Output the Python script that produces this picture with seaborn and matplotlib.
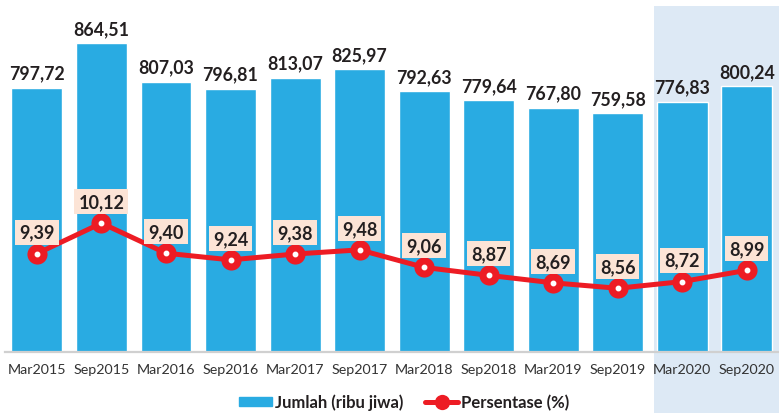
import matplotlib
matplotlib.use("Agg")
import matplotlib.pyplot as plt
from matplotlib.patches import Rectangle, Patch
from matplotlib.lines import Line2D
import pandas as pd
import seaborn as sns

periods = ["Mar2015", "Sep2015", "Mar2016", "Sep2016", "Mar2017", "Sep2017",
           "Mar2018", "Sep2018", "Mar2019", "Sep2019", "Mar2020", "Sep2020"]
jumlah = [797.72, 864.51, 807.03, 796.81, 813.07, 825.97,
          792.63, 779.64, 767.80, 759.58, 776.83, 800.24]
persentase = [9.39, 10.12, 9.40, 9.24, 9.38, 9.48,
              9.06, 8.87, 8.69, 8.56, 8.72, 8.99]

BLUE = "#29abe2"
RED = "#ed1c24"
TXT = "#231f20"

sns.set_style("white")
plt.rcParams["font.family"] = ["Lato", "DejaVu Sans"]

df = pd.DataFrame({"periode": periods, "jumlah": jumlah, "persen": persentase})

fig = plt.figure(figsize=(7.79, 4.14), dpi=100)
ax = fig.add_axes([0.006, 0.147, 0.994, 0.836])
ax.patch.set_visible(False)

# shaded area for 2020
fig.add_artist(Rectangle((654 / 779, 0), 1 - 654 / 779, 1 - 7 / 414,
                         transform=fig.transFigure, color="#dde9f5",
                         zorder=-5, lw=0))

sns.barplot(data=df, x="periode", y="jumlah", color=BLUE, width=0.79,
            saturation=1, ax=ax)
ax.set_ylim(403.3, 920)
ax.set_xlim(-0.5, len(periods) - 0.5)
for c in ax.containers:
    ax.bar_label(c, labels=[f"{v:.2f}".replace(".", ",") for v in jumlah],
                 padding=4.5, fontsize=12.8, fontweight="bold", color=TXT)

ax.set_xlabel("")
ax.set_ylabel("")
ax.set_yticks([])
for s in ["top", "right", "left"]:
    ax.spines[s].set_visible(False)
ax.spines["bottom"].set_color("#d0d0d0")
ax.spines["bottom"].set_linewidth(1.6)
ax.tick_params(axis="x", length=0, pad=8, labelsize=10.3, labelcolor="#333333")

ax2 = ax.twinx()
ax2.set_ylim(7.03, 15.32)
x = list(range(len(periods)))
sns.lineplot(x=x, y=persentase, color=RED, lw=3.6, marker="o", markersize=14.5,
             markeredgewidth=0, ax=ax2, zorder=3)
ax2.plot(x, persentase, ls="none", marker="o", markersize=3.2, color="white", zorder=4)
for i, v in enumerate(persentase):
    ax2.annotate(f"{v:.2f}".replace(".", ","), (i, v), xytext=(0, 15.5),
                 textcoords="offset points", ha="center", va="center",
                 fontsize=13, fontweight="bold", color=TXT,
                 bbox=dict(boxstyle="square,pad=0.22", fc="#fce4d6", ec="none"),
                 zorder=5)
ax2.set_yticks([])
ax2.set_ylabel("")
for s in ["top", "right", "left", "bottom"]:
    ax2.spines[s].set_visible(False)
ax2.set_xlim(-0.5, len(periods) - 0.5)

handles = [Patch(color=BLUE, label="Jumlah (ribu jiwa)"),
           Line2D([], [], color=RED, lw=3.6, marker="o", markersize=11,
                  markeredgewidth=0, label="Persentase (%)")]
fig.legend(handles=handles, loc="center", bbox_to_anchor=(404 / 779, 1 - 403 / 414),
           ncol=2, frameon=False, handlelength=2.0, handleheight=0.5,
           handletextpad=0.15, columnspacing=1.3,
           prop={"size": 12, "weight": "bold"}, labelcolor=TXT)

fig.savefig("out.png", dpi=100)
